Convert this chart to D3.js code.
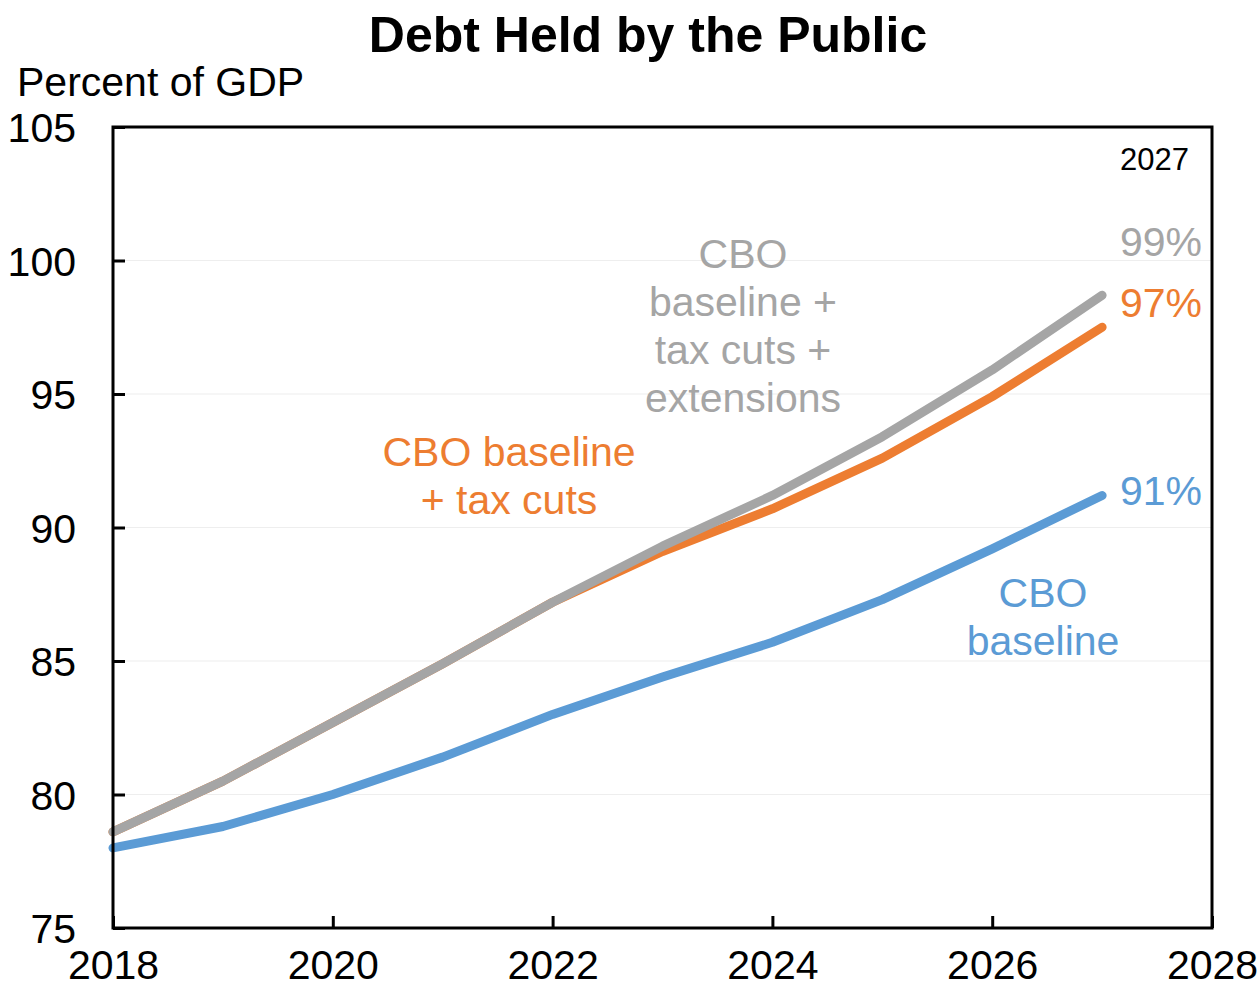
<!DOCTYPE html>
<html>
<head>
<meta charset="utf-8">
<script src="https://cdn.jsdelivr.net/npm/d3@7"></script>
<style>
  body { margin: 0; background: #fff; }
  svg { font-family: "Liberation Sans", Arial, sans-serif; }
</style>
</head>
<body>
<div id="chart"></div>
<script>
// Debt held by the public, percent of GDP
var years = [2018, 2019, 2020, 2021, 2022, 2023, 2024, 2025, 2026, 2027];
var cboBaseline = [78.0, 78.8, 80.0, 81.4, 83.0, 84.4, 85.7, 87.3, 89.2, 91.2];
var taxCuts = [78.6, 80.5, 82.7, 84.9, 87.2, 89.1, 90.7, 92.6, 94.9, 97.5];
var taxCutsExt = [78.6, 80.5, 82.7, 84.9, 87.2, 89.3, 91.2, 93.4, 95.9, 98.7];
var yTicks = [75, 80, 85, 90, 95, 100, 105];
var xTicks = [2018, 2020, 2022, 2024, 2026, 2028];
var endLabels = ["99%", "97%", "91%"];

var W = 1259, H = 982;
var margin = { top: 127, right: 47, bottom: 54, left: 113 };
var width = W - margin.left - margin.right,
    height = H - margin.top - margin.bottom;

var svg = d3.select("#chart").append("svg")
    .attr("width", W).attr("height", H);

var colors = { blue: "#5B9BD5", orange: "#ED7D31", gray: "#A5A5A5" };

var x = d3.scaleLinear().domain([2018, 2028]).range([0, width]);
var y = d3.scaleLinear().domain([75, 105]).range([height, 0]);

var g = svg.append("g")
    .attr("transform", "translate(" + margin.left + "," + margin.top + ")");

// faint gridlines
g.selectAll(".grid").data(yTicks.slice(1, -1)).enter().append("line")
    .attr("x1", 0).attr("x2", width)
    .attr("y1", function (d) { return y(d); })
    .attr("y2", function (d) { return y(d); })
    .attr("stroke", "#eeeeee").attr("stroke-width", 1.2);

// Lines
var line = d3.line()
    .x(function (d, i) { return x(years[i]); })
    .y(function (d) { return y(d); });

[[taxCuts, colors.orange], [taxCutsExt, colors.gray], [cboBaseline, colors.blue]].forEach(function (s) {
    g.append("path").datum(s[0])
        .attr("fill", "none")
        .attr("stroke", s[1])
        .attr("stroke-width", 9)
        .attr("stroke-linejoin", "round")
        .attr("stroke-linecap", "round")
        .attr("d", line);
});

// Axes (ticks pointing inward)
var yAxis = g.append("g")
    .call(d3.axisLeft(y).tickValues(yTicks).tickSize(-12).tickPadding(37));
var xAxis = g.append("g")
    .attr("transform", "translate(0," + height + ")")
    .call(d3.axisBottom(x).tickValues(xTicks).tickFormat(d3.format("d")).tickSize(-12).tickPadding(21));

[yAxis, xAxis].forEach(function (a) {
    a.select(".domain").remove();
    a.selectAll(".tick line").attr("stroke", "#000").attr("stroke-width", 3);
    a.selectAll(".tick text").attr("fill", "#000").style("font-size", "41px");
});
yAxis.selectAll(".tick text").attr("dy", "0.36em");
xAxis.selectAll(".tick text").attr("dy", "0.72em");

// frame
g.append("rect")
    .attr("x", 0).attr("y", 0).attr("width", width).attr("height", height)
    .attr("fill", "none").attr("stroke", "#000").attr("stroke-width", 3);

// Title and y label
svg.append("text").attr("x", 648).attr("y", 52)
    .attr("text-anchor", "middle")
    .style("font-size", "50px").style("font-weight", "bold")
    .text("Debt Held by the Public");
svg.append("text").attr("x", 17).attr("y", 96)
    .style("font-size", "41px")
    .text("Percent of GDP");

// Series labels
function multiLabel(lines, cx, y0, color) {
    var t = svg.append("text").attr("text-anchor", "middle")
        .attr("fill", color).style("font-size", "41px");
    lines.forEach(function (l, i) {
        t.append("tspan").attr("x", cx).attr("y", y0 + i * 48).text(l);
    });
}
multiLabel(["CBO", "baseline +", "tax cuts +", "extensions"], 743, 268, colors.gray);
multiLabel(["CBO baseline", "+ tax cuts"], 509, 466, colors.orange);
multiLabel(["CBO", "baseline"], 1043, 607, colors.blue);

// End-of-period labels
svg.append("text").attr("x", 1120).attr("y", 170)
    .style("font-size", "31px").text("2027");
var endY = [256, 317, 505];
var endC = [colors.gray, colors.orange, colors.blue];
endLabels.forEach(function (l, i) {
    svg.append("text").attr("x", 1120).attr("y", endY[i])
        .attr("fill", endC[i]).style("font-size", "41px").text(l);
});
</script>
</body>
</html>
